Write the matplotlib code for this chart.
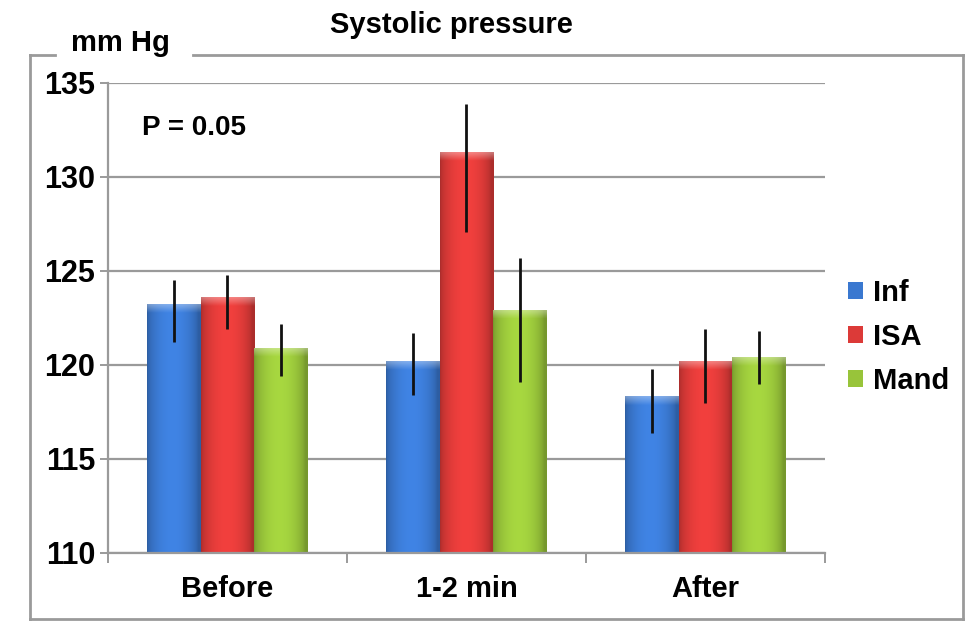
import numpy as np
import matplotlib.pyplot as plt
from matplotlib.lines import Line2D
from matplotlib.patches import Patch

plt.rcParams['font.family'] = ['Liberation Sans', 'DejaVu Sans']
plt.rcParams['font.weight'] = 'bold'

categories = ['Before', '1-2 min', 'After']
series = ['Inf', 'ISA', 'Mand']
inf_vals = [123.2, 120.2, 118.3]
isa_vals = [123.6, 131.3, 120.2]
mand_vals = [120.9, 122.9, 120.4]
# error bar ends (upper / lower)
inf_hi = [124.5, 121.7, 119.8]
inf_lo = [121.2, 118.4, 116.4]
isa_hi = [124.8, 133.9, 121.9]
isa_lo = [121.9, 127.1, 118.0]
mand_hi = [122.2, 125.7, 121.8]
mand_lo = [119.4, 119.1, 119.0]
yticks = [110, 115, 120, 125, 130, 135]

colors = ['#3a78d0', '#dc3a38', '#98c43a']

fig = plt.figure(figsize=(9.65, 6.26), dpi=100)
W, H = 965, 626
ax = fig.add_axes([108 / W, 1 - 553 / H, (825 - 108) / W, (553 - 83) / H])

x = np.arange(len(categories))
bw = 0.225
vals = [inf_vals, isa_vals, mand_vals]
his = [inf_hi, isa_hi, mand_hi]
los = [inf_lo, isa_lo, mand_lo]

ax.set_xlim(-0.5, 2.5)
ax.set_ylim(110, 135)

for i, (v, hi, lo, c) in enumerate(zip(vals, his, los, colors)):
    pos = x + (i - 1) * bw
    v = np.array(v)
    bars = ax.bar(pos, v - 110, bw, bottom=110, color=c, zorder=2)
    base = np.array(plt.matplotlib.colors.to_rgb(c))
    for b in bars:
        bx, by, w, h = b.get_x(), b.get_y(), b.get_width(), b.get_height()
        nx, ny = 60, 300
        t = np.linspace(0, 1, nx)
        # cylinder-like shading across the bar
        f = 0.78 + 0.32 * np.sin(np.pi * np.clip(t * 1.05, 0, 1)) ** 0.6
        img = np.ones((ny, nx, 3)) * base
        img = img * f[None, :, None]
        # light bevel at the top
        bev = int(ny * 0.5 / h)
        if bev > 0:
            ramp = np.linspace(1.0, 0.0, bev)
            img[:bev] = img[:bev] + (1 - img[:bev]) * 0.35 * ramp[:, None, None]
        img = np.clip(img, 0, 1)
        b.set_visible(False)
        ax.imshow(img, extent=(bx, bx + w, by, by + h), aspect='auto',
                  origin='upper', zorder=2, interpolation='bilinear')
    yerr = [v - np.array(lo), np.array(hi) - v]
    ax.errorbar(pos, v, yerr=yerr, fmt='none', ecolor='#111111', elinewidth=2,
                capsize=0, zorder=3)

ax.set_xlim(-0.5, 2.5)
ax.set_ylim(110, 135)
ax.set_yticks(yticks)
ax.yaxis.grid(True, color='#9a9a9a', lw=1.6, zorder=0)
ax.set_axisbelow(True)
for s in ['top', 'right']:
    ax.spines[s].set_visible(False)
for s in ['left', 'bottom']:
    ax.spines[s].set_color('#9a9a9a')
    ax.spines[s].set_linewidth(1.6)

ax.set_xticks(x)
ax.set_xticklabels(categories)
ax.set_xticks([-0.5, 0.5, 1.5, 2.5], minor=True)
ax.tick_params(axis='x', which='major', length=0, pad=16, labelsize=21)
ax.tick_params(axis='x', which='minor', length=7, color='#9a9a9a', width=1.4)
ax.tick_params(axis='y', length=6, pad=3, labelsize=22, color='#9a9a9a', width=1.4)

ax.text(0.047, 0.904, 'P = 0.05', transform=ax.transAxes, fontsize=20,
        va='center', ha='left')

handles = [Patch(facecolor=c, edgecolor='none') for c in colors]
fig.legend(handles, series, loc='center left', bbox_to_anchor=(822 / W, 1 - 337 / H),
           frameon=False, fontsize=21, handlelength=0.5, handleheight=0.5,
           handletextpad=0.35, labelspacing=0.55)

# outer frame with a break for the unit label
bc = '#9a9a9a'
L, R, T, B = 30 / W, 963 / W, 1 - 55 / H, 1 - 619 / H
fig.add_artist(Line2D([L, 55 / W], [T, T], color=bc, lw=2))
fig.add_artist(Line2D([193 / W, R], [T, T], color=bc, lw=2))
fig.add_artist(Line2D([L, L], [T, B], color=bc, lw=2))
fig.add_artist(Line2D([R, R], [T, B], color=bc, lw=2))
fig.add_artist(Line2D([L, R], [B, B], color=bc, lw=2))

fig.text(120 / W, 1 - 43 / H, 'mm Hg', fontsize=21, ha='center', va='center')
fig.text(451 / W, 1 - 25 / H, 'Systolic pressure', fontsize=21, ha='center', va='center')

fig.savefig('out.png', dpi=100)
